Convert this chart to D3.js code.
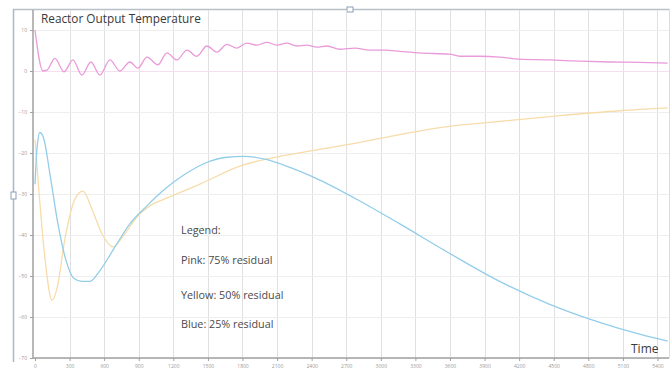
<!DOCTYPE html>
<html><head><meta charset="utf-8">
<script src="https://cdn.jsdelivr.net/npm/d3@7"></script>
<style>body{margin:0;background:#fff}svg{display:block}</style>
</head><body>
<script>
const xTicks = d3.range(0, 5401, 300);
const yTicks = [10, 0, -10, -20, -30, -40, -50, -60, -70];

const pinkT = [0,69,104,173,251,329,407,485,563,650,737,823,893,971,1066,1144,1231,1318,1404,1491,1578,1665,1751,1838,1925,2011,2098,2185,2271,2358,2445,2532,2644,2774,2904,3034,3165,3338,3598,3685,3858,4031,4205,4465,4725,4985,5245,5488];
const pinkV = [10,0,0.2,3.1,-0.2,2.7,-1,2.2,-1,2.7,0,2.2,0.7,3.4,1.5,4.4,2.7,5.1,3.6,6.1,4.6,6.5,5.6,6.8,6.3,7.0,6.3,6.8,6.1,6.3,5.8,6.1,5.3,5.6,5.1,5.1,4.8,4.4,4.1,3.6,3.6,3.4,2.9,2.7,2.4,2.2,2.1,1.9];

const yellowT = [0,26,87,147,191,260,347,416,494,581,676,780,884,997,1170,1431,1777,2124,2471,2818,3165,3511,4031,4552,5072,5488];
const yellowV = [-16.7,-26.4,-45.8,-55.9,-53.0,-40.9,-31.2,-29.3,-33.7,-39.7,-42.9,-39.7,-35.6,-32.9,-30.7,-27.6,-23.2,-20.8,-19.1,-17.4,-15.5,-13.8,-12.3,-10.9,-9.7,-9.0];

const blueT = [0,17,43,78,130,199,269,338,407,477,563,694,823,971,1127,1300,1474,1647,1821,1994,2211,2471,2818,3165,3598,4031,4465,4898,5245,5488];
const blueV = [-27.6,-19.1,-15.0,-16.7,-25.2,-37.3,-46.2,-50.6,-51.3,-51.3,-48.7,-42.9,-37.3,-32.9,-28.8,-25.2,-22.5,-21.1,-20.8,-21.5,-23.5,-26.6,-31.7,-37.3,-44.5,-51.3,-56.9,-61.3,-64.2,-65.9];

const legendLines = ["Legend:", "Pink: 75% residual", "Yellow: 50% residual", "Blue: 25% residual"];

const W = 672, H = 370;
const FONT = "'Open Sans', 'Liberation Sans', Arial, sans-serif";
const svg = d3.select("body").append("svg").attr("width", W).attr("height", H);

const x = d3.scaleLinear().domain([0, 5500]).range([35, 669]);
const y = d3.scaleLinear().domain([-70, 15]).range([358, 9.5]);

// outer frame
svg.append("line").attr("x1", 13).attr("x2", 670).attr("y1", 9.5).attr("y2", 9.5).attr("stroke", "#b8c0c8").attr("stroke-width", 1.5);
svg.append("line").attr("x1", 13.5).attr("x2", 13.5).attr("y1", 9).attr("y2", 362).attr("stroke", "#a8b8cc").attr("stroke-width", 1.5);
svg.append("line").attr("x1", 669.5).attr("x2", 669.5).attr("y1", 9).attr("y2", 358).attr("stroke", "#d8dde2").attr("stroke-width", 1);
svg.append("rect").attr("x", 347).attr("y", 7).attr("width", 6).attr("height", 5).attr("fill", "#fff").attr("stroke", "#8aa0b8");
svg.append("rect").attr("x", 11).attr("y", 192).attr("width", 5).attr("height", 7).attr("fill", "#fff").attr("stroke", "#8aa0b8");

// grid
svg.append("g").selectAll("line").data(xTicks.slice(1)).join("line")
  .attr("x1", d => Math.round(x(d)) + 0.5).attr("x2", d => Math.round(x(d)) + 0.5)
  .attr("y1", 10).attr("y2", 358).attr("stroke", "#e0e0e0").attr("stroke-width", 1);
svg.append("g").selectAll("line").data(yTicks).join("line")
  .attr("x1", 33).attr("x2", 669).attr("y1", d => Math.round(y(d)) + 0.5).attr("y2", d => Math.round(y(d)) + 0.5)
  .attr("stroke", d => d === 0 ? "#f6e0f0" : "#eeeeee").attr("stroke-width", 1);

// axes
const xAxis = svg.append("g").attr("transform", "translate(0,358)")
  .call(d3.axisBottom(x).tickValues(xTicks).tickFormat(d3.format("d")).tickSize(3).tickPadding(3));
xAxis.select(".domain").attr("stroke", "#a0a0a0").attr("stroke-width", 1.5).attr("d", "M33,0H669");
xAxis.selectAll("line").attr("stroke", "#a0a0a0");
xAxis.selectAll("text").attr("fill", "#999").attr("font-size", 5).attr("font-family", FONT);

const yAxis = svg.append("g").attr("transform", "translate(33,0)")
  .call(d3.axisLeft(y).tickValues(yTicks).tickFormat(d3.format("d")).tickSize(3).tickPadding(3));
yAxis.select(".domain").attr("stroke", "#a0a0a0").attr("stroke-width", 1.5).attr("d", "M0,10V358");
yAxis.selectAll("line").attr("stroke", "#a0a0a0");
yAxis.selectAll("text").attr("fill", "#999").attr("font-size", 5).attr("font-family", FONT);

// lines
const smooth = d3.line().x(d => x(d[0])).y(d => y(d[1])).curve(d3.curveMonotoneX);
const series = [
  {t: yellowT, v: yellowV, c: "#f7dcaa"},
  {t: blueT, v: blueV, c: "#92cdea"},
  {t: pinkT, v: pinkV, c: "#ea9ad9"}
];
series.forEach(s => {
  svg.append("path").datum(d3.zip(s.t, s.v)).attr("d", smooth)
    .attr("fill", "none").attr("stroke", s.c).attr("stroke-width", 1.3)
    .attr("stroke-linejoin", "round");
});

// texts
svg.append("text").attr("x", 41).attr("y", 23).text("Reactor Output Temperature")
  .attr("font-family", FONT).attr("font-size", 11.8).attr("fill", "#3a3a3a");

const legY = [234, 264, 299, 328];
svg.append("g").selectAll("text").data(legendLines).join("text")
  .attr("x", 181).attr("y", (d, i) => legY[i]).text(d => d)
  .attr("font-family", FONT).attr("font-size", 10.8).attr("fill", "#4a4a4a");

svg.append("text").attr("x", 631).attr("y", 353).text("Time")
  .attr("font-family", FONT).attr("font-size", 12).attr("fill", "#3a3a3a");
</script>
</body></html>
